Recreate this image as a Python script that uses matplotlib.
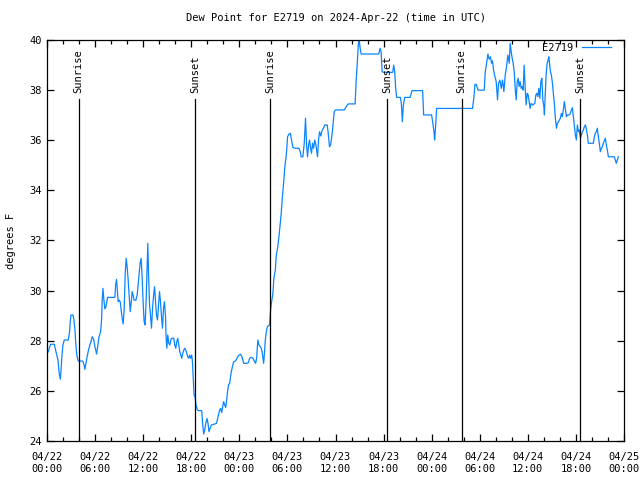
import matplotlib
matplotlib.use('Agg')
import matplotlib.pyplot as plt
import matplotlib.dates as mdates
import pandas as pd

# hours since 2024-04-22 00:00 UTC, and dew point (F)
hours = [
    0.16, 0.34, 0.45, 0.91, 1.12, 1.37, 1.53, 1.66, 1.74, 1.87, 1.99, 2.15, 2.65, 2.82, 2.90, 2.99,
    3.24, 3.36, 3.49, 3.61, 3.74, 3.90, 4.45, 4.61, 4.73, 4.86, 5.02, 5.23, 5.48, 5.64, 5.82, 5.98,
    6.19, 6.32, 6.48, 6.69, 6.81, 6.89, 6.98, 7.10, 7.22, 7.35, 7.56, 8.47, 8.56, 8.68, 8.76, 8.88,
    9.01, 9.13, 9.26, 9.38, 9.50, 9.63, 9.75, 9.88, 10.00, 10.13, 10.25, 10.38, 10.50, 10.63, 10.75,
    10.87, 11.09, 11.25, 11.37, 11.50, 11.62, 11.75, 11.87, 12.00, 12.12, 12.24, 12.37, 12.49, 12.58,
    12.67, 12.79, 12.92, 13.04, 13.17, 13.29, 13.42, 13.54, 13.66, 13.79, 13.91, 14.04, 14.16, 14.29,
    14.41, 14.54, 14.66, 14.79, 14.86, 14.95, 15.07, 15.20, 15.32, 15.45, 15.57, 15.82, 15.94, 16.07,
    16.19, 16.32, 16.44, 16.57, 16.69, 16.82, 16.94, 17.07, 17.19, 17.31, 17.44, 17.56, 17.69, 17.81,
    17.94, 18.06, 18.15, 18.27, 18.35, 18.47, 18.60, 18.77, 18.93, 19.31, 19.43, 19.56, 19.68, 19.81,
    19.97, 20.09, 20.22, 20.34, 20.52, 20.93, 21.14, 21.30, 21.43, 21.55, 21.67, 21.80, 21.92, 22.05,
    22.17, 22.30, 22.42, 22.55, 22.67, 22.80, 22.96, 23.13, 23.29, 23.54, 23.70, 23.95, 24.17, 24.33,
    24.54, 24.88, 25.12, 25.29, 25.50, 25.70, 25.91, 26.03, 26.16, 26.25, 26.32, 26.45, 26.62, 26.74,
    26.87, 27.03, 27.15, 27.24, 27.37, 27.49, 27.62, 27.78, 27.90, 28.03, 28.19, 28.31, 28.49, 28.61,
    28.77, 28.94, 29.11, 29.24, 29.36, 29.52, 29.68, 29.86, 30.02, 30.18, 30.36, 30.52, 30.68, 30.93,
    31.43, 31.60, 31.73, 31.93, 32.10, 32.26, 32.39, 32.51, 32.64, 32.76, 32.89, 33.01, 33.13, 33.26,
    33.42, 33.59, 33.76, 33.88, 34.01, 34.17, 34.34, 34.50, 34.67, 34.97, 35.09, 35.25, 35.38, 35.54,
    35.71, 35.84, 36.00, 37.12, 37.33, 37.58, 38.45, 38.58, 38.74, 38.86, 38.95, 39.08, 39.20, 41.39,
    41.57, 41.69, 41.82, 41.98, 43.14, 43.26, 43.39, 43.51, 43.63, 44.10, 44.22, 44.34, 44.47, 44.63,
    45.30, 45.55, 46.87, 47.00, 47.99, 48.12, 48.29, 48.37, 48.46, 48.62, 53.10, 53.28, 53.40, 53.56,
    53.78, 54.56, 54.68, 54.85, 55.02, 55.18, 55.34, 55.47, 55.59, 55.72, 55.89, 56.05, 56.22, 56.34,
    56.52, 56.68, 56.84, 57.01, 57.18, 57.34, 57.51, 57.68, 57.80, 57.92, 58.05, 58.17, 58.30, 58.42,
    58.55, 58.67, 58.79, 58.92, 59.04, 59.17, 59.29, 59.42, 59.54, 59.67, 59.79, 59.92, 60.04, 60.17,
    60.29, 60.41, 60.63, 60.87, 61.00, 61.12, 61.25, 61.37, 61.50, 61.62, 61.75, 61.87, 62.00, 62.07,
    62.16, 62.28, 62.41, 62.53, 62.62, 62.69, 62.82, 62.94, 63.07, 63.19, 63.32, 63.44, 63.57, 63.69,
    63.81, 63.94, 64.06, 64.19, 64.31, 64.44, 64.56, 64.69, 64.81, 64.94, 65.18, 65.31, 65.43, 65.56,
    65.68, 65.81, 65.93, 66.06, 66.18, 66.31, 66.43, 66.56, 66.68, 66.81, 66.93, 67.05, 67.18, 67.30,
    67.43, 67.55, 68.18, 68.30, 68.42, 68.55, 68.67, 68.80, 68.92, 69.05, 69.17, 69.30, 69.42, 69.54,
    69.67, 69.80, 69.92, 70.05, 70.79, 70.92, 71.04, 71.17, 71.29,
]
dewpoint = [
    27.56, 27.76, 27.86, 27.86, 27.56, 27.23, 26.67, 26.47, 26.76, 27.43, 27.83, 28.03, 28.03, 28.36, 28.76, 29.03,
    29.03, 28.83, 28.43, 27.79, 27.39, 27.19, 27.19, 27.06, 26.86, 27.10, 27.39, 27.70, 27.96, 28.16, 28.06, 27.76,
    27.47, 27.76, 28.14, 28.36, 28.83, 29.62, 30.09, 29.62, 29.27, 29.36, 29.73, 29.73, 30.22, 30.45, 30.09, 29.56,
    29.62, 29.56, 29.23, 28.89, 28.67, 29.23, 30.62, 31.29, 30.95, 30.42, 29.82, 29.16, 29.49, 29.96, 29.82,
    29.62, 29.62, 29.82, 30.22, 30.69, 31.09, 31.29, 30.55, 29.49, 28.76, 28.63, 29.62, 30.95, 31.89,
    30.69, 29.49, 28.96, 28.50, 29.29, 29.76, 30.16, 29.62, 29.03, 28.83, 29.36, 29.96, 29.56, 28.96,
    28.50, 29.29, 29.56, 28.96, 28.16, 27.70, 28.23, 27.90, 27.83, 28.03, 28.10, 28.10, 27.83, 27.70,
    27.96, 28.10, 27.83, 27.56, 27.43, 27.30, 27.50, 27.63, 27.70, 27.63, 27.50, 27.36, 27.30, 27.43,
    27.30, 27.43, 27.16, 26.36, 25.83, 25.77, 25.43, 25.24, 25.21, 25.21, 24.64, 24.28, 24.44, 24.70,
    24.90, 24.70, 24.37, 24.50, 24.64, 24.68, 24.70, 24.90, 25.10, 25.24, 25.30, 25.13, 25.37, 25.57,
    25.43, 25.34, 25.63, 26.03, 26.26, 26.30, 26.70, 26.96, 27.16, 27.20, 27.30, 27.43, 27.46, 27.36,
    27.10, 27.10, 27.12, 27.30, 27.34, 27.30, 27.16, 27.10, 27.30, 27.76, 28.03, 27.83, 27.76, 27.70,
    27.50, 27.10, 27.56, 28.03, 28.36, 28.55, 28.60, 28.63, 29.23, 29.56, 29.89, 30.49, 30.82, 31.42,
    31.69, 32.15, 32.69, 33.15, 33.68, 34.28, 34.94, 35.41, 36.14, 36.24, 36.28, 36.01, 35.72, 35.68,
    35.68, 35.54, 35.34, 35.34, 35.88, 36.88, 35.81, 35.34, 35.81, 36.01, 35.68, 35.48, 35.88, 35.68,
    36.01, 35.74, 35.34, 36.01, 36.34, 36.17, 36.41, 36.48, 36.61, 36.61, 36.28, 35.74, 35.81, 36.14,
    36.68, 37.14, 37.21, 37.21, 37.34, 37.45, 37.45, 38.40, 39.20, 39.87, 40.00, 39.67, 39.44, 39.44,
    39.67, 39.52, 38.74, 38.71, 38.71, 39.00, 38.74, 38.07, 37.71, 37.71, 37.45, 36.74, 37.41, 37.71,
    37.71, 37.98, 37.98, 37.01, 37.01, 36.74, 36.34, 36.01, 36.41, 37.27, 37.27, 37.74, 38.23, 38.23,
    38.00, 38.00, 38.70, 39.07, 39.44, 39.23, 39.33, 39.07, 39.17, 38.80, 38.54, 38.34, 37.61, 38.27,
    38.40, 38.07, 38.40, 37.94, 38.60, 38.93, 39.40, 39.07, 39.87, 39.53, 39.27, 39.07, 38.74, 38.07,
    37.61, 38.34, 38.47, 38.14, 38.34, 38.07, 38.14, 38.00, 39.00, 38.07, 37.41, 37.87, 37.81, 37.54,
    37.27, 37.47, 37.41, 37.47, 37.81, 37.87, 37.74, 38.07, 37.67, 38.34, 38.47, 37.61, 37.34, 37.01,
    37.74, 38.60, 39.07, 39.20, 39.33, 39.13, 38.74, 38.60, 38.27, 37.87, 37.41, 36.88, 36.48, 36.68,
    36.72, 36.81, 36.88, 37.07, 36.94, 37.27, 37.54, 37.21, 36.94, 37.01, 37.01, 37.07, 37.21, 37.30,
    36.94, 36.54, 36.21, 36.01, 36.61, 36.34, 36.41, 36.08, 36.21, 36.34, 36.41, 36.54, 36.61, 36.45,
    36.21, 35.88, 35.88, 36.14, 36.28, 36.34, 36.48, 36.14, 35.88, 35.54, 35.68, 35.74, 35.88, 35.97,
    36.08, 35.81, 35.61, 35.34, 35.34, 35.21, 35.08, 35.21, 35.34,
]

# sun events, hours since start
event_hours = [3.95, 18.45, 27.84, 42.48, 51.73, 66.48]
event_names = ['Sunrise', 'Sunset', 'Sunrise', 'Sunset', 'Sunrise', 'Sunset']

start = pd.Timestamp('2024-04-22 00:00')
times = start + pd.to_timedelta(hours, unit='h')
event_times = start + pd.to_timedelta(event_hours, unit='h')

plt.rcParams['font.family'] = 'DejaVu Sans Mono'
plt.rcParams['font.size'] = 7.5

fig = plt.figure(figsize=(6.4, 4.8), dpi=100)
ax = fig.add_axes([47 / 640, 39 / 480, 577 / 640, 401 / 480])

ax.plot(times, dewpoint, color='#0a84ff', linewidth=0.9, label='E2719')

# sunrise / sunset markers
for t, name in zip(event_times, event_names):
    ax.plot([t, t], [24, 37.65], color='black', linewidth=0.9)
    ax.text(t, 37.9, name, rotation=90, ha='center', va='bottom', fontsize=7.5)

ax.set_xlim(start, start + pd.Timedelta(hours=72))
ax.set_ylim(24, 40)
ax.set_yticks(range(24, 41, 2))
ax.xaxis.set_major_locator(mdates.HourLocator(byhour=[0, 6, 12, 18]))
ax.xaxis.set_minor_locator(mdates.HourLocator(byhour=range(0, 24, 2)))
ax.xaxis.set_major_formatter(mdates.DateFormatter('%m/%d\n%H:%M'))
ax.tick_params(which='both', direction='in', top=True, right=True, width=0.9)
ax.tick_params(which='major', length=5, pad=8)
ax.tick_params(which='minor', length=3)
ax.tick_params(axis='y', pad=4)
for s in ax.spines.values():
    s.set_linewidth(0.9)

ax.set_title('Dew Point for E2719 on 2024-Apr-22 (time in UTC)', fontsize=7.5, pad=14)
ax.set_ylabel('degrees F', labelpad=9)

ax.legend(loc='upper right', bbox_to_anchor=(0.983, 1.0), frameon=False, markerfirst=False,
          handlelength=2.8, borderaxespad=0, borderpad=0.3, handletextpad=0.8)

fig.savefig('out.png', dpi=100)
